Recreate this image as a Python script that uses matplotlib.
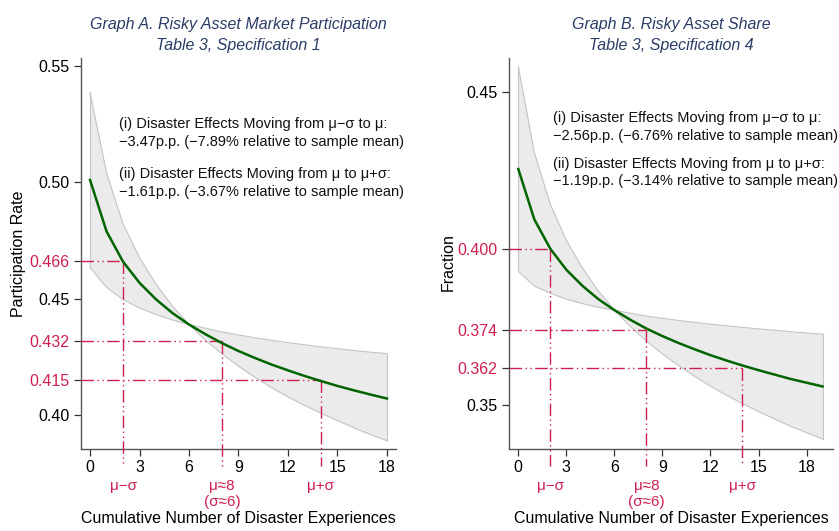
import matplotlib.pyplot as plt
import matplotlib.transforms as mtransforms

plt.rcParams['font.family'] = ['Liberation Sans', 'DejaVu Sans']

# ---- data ----
x_a = list(range(19))
mid_a = [0.5010, 0.4789, 0.4659, 0.4568, 0.4497, 0.4438, 0.4389, 0.4347, 0.4309, 0.4275,
         0.4245, 0.4217, 0.4192, 0.4168, 0.4146, 0.4125, 0.4106, 0.4088, 0.4071]
upper_a = [0.5386, 0.5040, 0.4822, 0.4676, 0.4562, 0.4468, 0.4389, 0.4373, 0.4357, 0.4344,
           0.4332, 0.4321, 0.4311, 0.4302, 0.4293, 0.4285, 0.4277, 0.4270, 0.4264]
lower_a = [0.4634, 0.4549, 0.4496, 0.4460, 0.4432, 0.4408, 0.4389, 0.4321, 0.4263, 0.4210,
           0.4162, 0.4118, 0.4078, 0.4042, 0.4008, 0.3976, 0.3945, 0.3916, 0.3890]

x_b = list(range(20))
mid_b = [0.4255, 0.4094, 0.4000, 0.3933, 0.3882, 0.3839, 0.3804, 0.3773, 0.3745, 0.3721,
         0.3699, 0.3679, 0.3660, 0.3643, 0.3627, 0.3612, 0.3598, 0.3584, 0.3572, 0.3560]
upper_b = [0.4582, 0.4308, 0.4142, 0.4027, 0.3939, 0.3865, 0.3804, 0.3794, 0.3785, 0.3778,
           0.3771, 0.3765, 0.3759, 0.3754, 0.3749, 0.3744, 0.3740, 0.3735, 0.3731, 0.3727]
lower_b = [0.3928, 0.3881, 0.3858, 0.3839, 0.3825, 0.3813, 0.3804, 0.3752, 0.3705, 0.3664,
           0.3627, 0.3593, 0.3561, 0.3532, 0.3505, 0.3480, 0.3456, 0.3433, 0.3412, 0.3392]

mark_x = [2, 8, 14]
mark_lab = ["\u03bc\u2212\u03c3", "\u03bc\u22488\n(\u03c3\u22486)", "\u03bc+\u03c3"]
mark_a = [0.466, 0.432, 0.415]
mark_b = [0.400, 0.374, 0.362]

ticks_a = [0.40, 0.45, 0.50, 0.55]
tlab_a = ["0.40", "0.45", "0.50", "0.55"]
mlab_a = ["0.466", "0.432", "0.415"]
ticks_b = [0.35, 0.45]
tlab_b = ["0.35", "0.45"]
mlab_b = ["0.400", "0.374", "0.362"]

note_a = ["(i) Disaster Effects Moving from \u03bc\u2212\u03c3 to \u03bc:\n"
          "\u22123.47p.p. (\u22127.89% relative to sample mean)",
          "(ii) Disaster Effects Moving from \u03bc to \u03bc+\u03c3:\n"
          "\u22121.61p.p. (\u22123.67% relative to sample mean)"]
note_b = ["(i) Disaster Effects Moving from \u03bc\u2212\u03c3 to \u03bc:\n"
          "\u22122.56p.p. (\u22126.76% relative to sample mean)",
          "(ii) Disaster Effects Moving from \u03bc to \u03bc+\u03c3:\n"
          "\u22121.19p.p. (\u22123.14% relative to sample mean)"]

RED = "#cf1f4f"
NAVY = "#2b3d66"
GREEN = "#006400"
DASH = (0, (9, 2.5, 1, 2.5, 1, 2.5))

fig = plt.figure(figsize=(8.39, 5.31), dpi=100)
ax_a = fig.add_axes([0.0965, 0.1544, 0.3755, 0.7364])
ax_b = fig.add_axes([0.6067, 0.1544, 0.3863, 0.7364])

panels = [
    (ax_a, x_a, mid_a, upper_a, lower_a, mark_a, ticks_a, tlab_a, mlab_a, note_a,
     (-0.55, 18.55), (0.3854, 0.5534), "Participation Rate", (-0.175, 0.50),
     "Graph A. Risky Asset Market Participation\nTable 3, Specification 1",
     [0.808, 0.680], 0.121),
    (ax_b, x_b, mid_b, upper_b, lower_b, mark_b, ticks_b, tlab_b, mlab_b, note_b,
     (-0.58, 19.66), (0.336, 0.461), "Fraction", (-0.163, 0.478),
     "Graph B. Risky Asset Share\nTable 3, Specification 4",
     [0.824, 0.707], 0.135),
]

for (ax, xs, mid, up, lo, marks, ticks, tlab, mlab, notes, xl, yl, ylab, ylab_xy,
     title, note_y, note_x) in panels:
    ax.fill_between(xs, lo, up, color="#ebebeb", lw=0, zorder=1)
    ax.plot(xs, up, color="#c4c4c4", lw=0.8, zorder=2)
    ax.plot(xs, lo, color="#c4c4c4", lw=0.8, zorder=2)
    ax.plot([xs[0], xs[0]], [lo[0], up[0]], color="#c4c4c4", lw=0.8, zorder=2)
    ax.plot([xs[-1], xs[-1]], [lo[-1], up[-1]], color="#c4c4c4", lw=0.8, zorder=2)
    ax.plot(xs, mid, color=GREEN, lw=1.8, zorder=4)

    ax.set_xlim(*xl)
    ax.set_ylim(*yl)
    y_below = yl[0] - 0.043 * (yl[1] - yl[0])
    for mx, my in zip(mark_x, marks):
        ax.plot([xl[0], mx], [my, my], color=RED, lw=1.0, ls=DASH, zorder=3)
        ax.plot([mx, mx], [my, y_below], color=RED, lw=1.0, ls=DASH, zorder=3,
                clip_on=False)

    ax.set_yticks(ticks + marks)
    ax.set_yticklabels(tlab + mlab)
    for i, (lab, tk) in enumerate(zip(ax.get_yticklabels(), ax.yaxis.get_major_ticks())):
        if i >= len(ticks):
            lab.set_color(RED)
            tk.tick1line.set_color(RED)
    ax.set_xticks([0, 3, 6, 9, 12, 15, 18])
    ax.tick_params(axis="both", labelsize=11.5, length=5, width=0.9,
                   color="#333333", direction="out")
    ax.tick_params(axis="x", pad=3)

    for s in ["top", "right"]:
        ax.spines[s].set_visible(False)
    for s in ["left", "bottom"]:
        ax.spines[s].set_color("#555555")
        ax.spines[s].set_linewidth(1.0)

    trans = mtransforms.blended_transform_factory(ax.transData, ax.transAxes)
    for mx, lab in zip(mark_x, mark_lab):
        ax.text(mx, -0.077, lab, transform=trans, color=RED, fontsize=11,
                ha="center", va="top", linespacing=1.2)

    for ny, txt in zip(note_y, notes):
        ax.text(note_x, ny, txt, transform=ax.transAxes, fontsize=10.5,
                ha="left", va="center", linespacing=1.35, color="#111111")

    ax.set_xlabel("Cumulative Number of Disaster Experiences", fontsize=11.5,
                  labelpad=26)
    ax.set_ylabel(ylab, fontsize=11.5)
    ax.yaxis.set_label_coords(*ylab_xy)
    ax.set_title(title, fontsize=11.5, style="italic", color=NAVY, pad=6,
                 linespacing=1.45)

fig.savefig("out.png", dpi=100, facecolor="white")
